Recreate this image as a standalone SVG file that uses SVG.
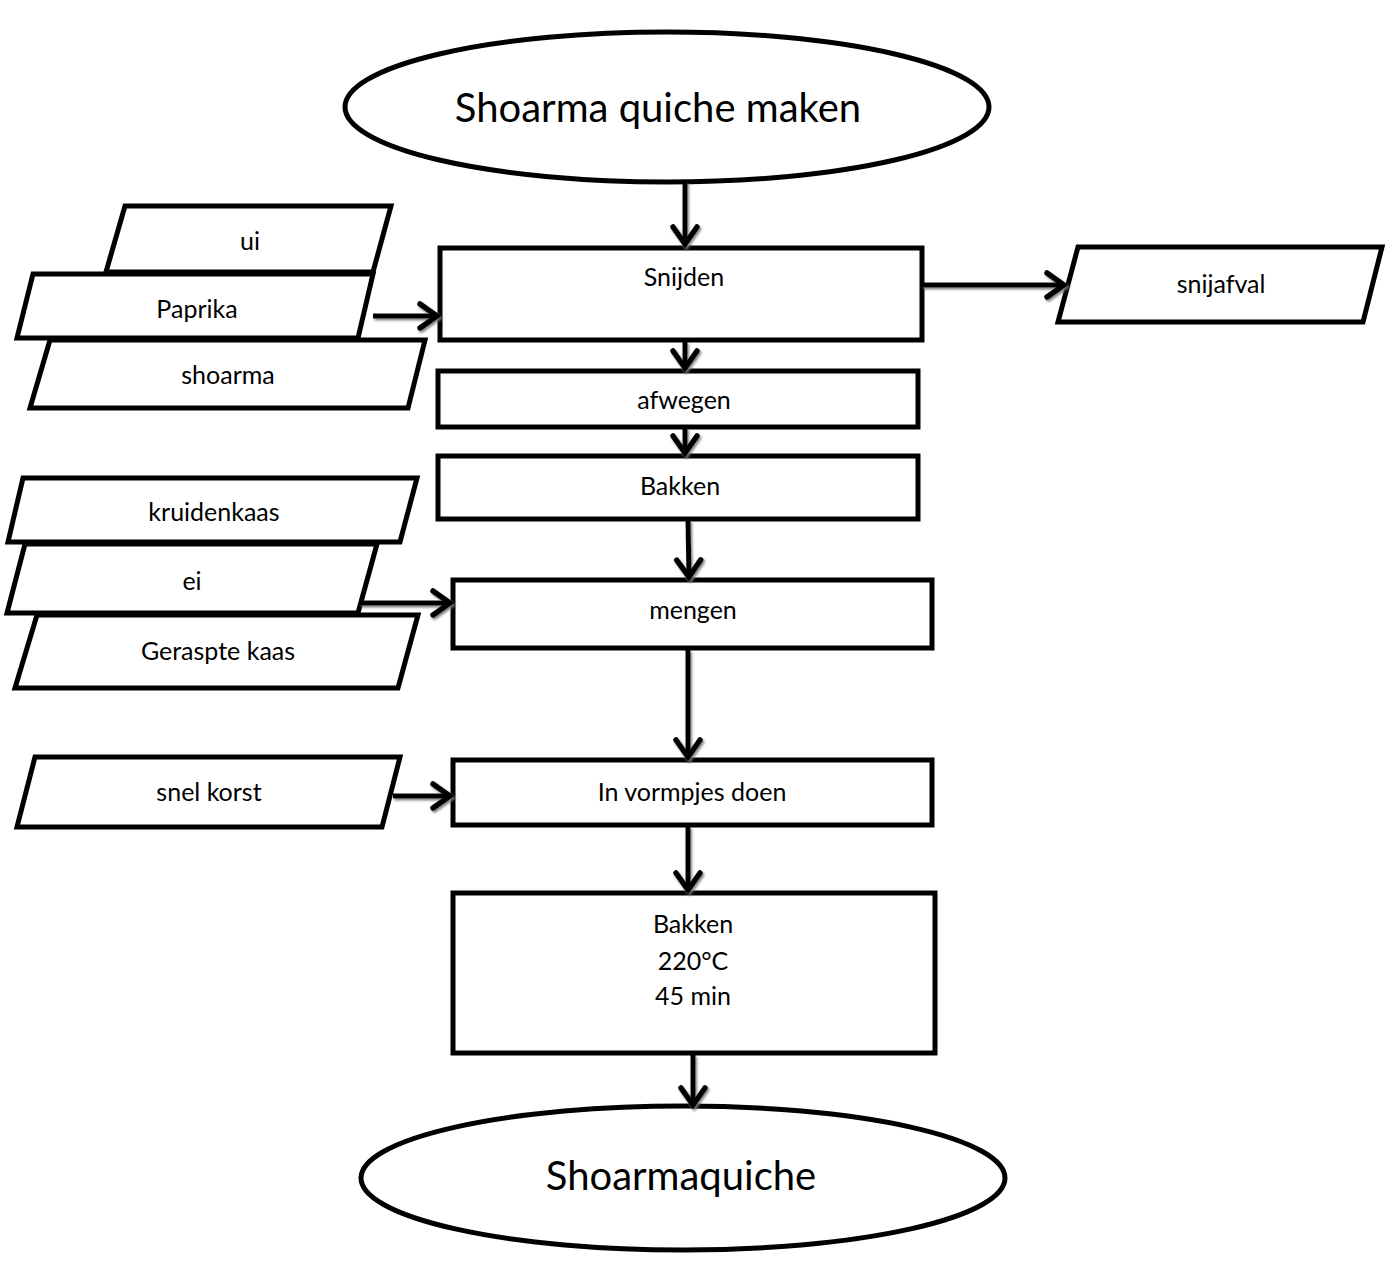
<svg xmlns="http://www.w3.org/2000/svg" width="1397" height="1286" viewBox="0 0 1397 1286">
<style>
.s{fill:#fff;stroke:#000;stroke-width:5;stroke-linejoin:miter}
.t{font-family:Lato,"Open Sans","Liberation Sans",sans-serif;font-size:25px;fill:#000;text-anchor:middle}
.big{font-size:40px}
.c{stroke:#000;stroke-width:5;fill:none}
</style>
<defs>
<filter id="sh" x="-20%" y="-50%" width="140%" height="200%">
<feDropShadow dx="1.5" dy="2" stdDeviation="0.8" flood-color="#777" flood-opacity="0.9"/>
</filter>
<marker id="ah" markerUnits="userSpaceOnUse" viewBox="-22 -16 26 32" refX="0" refY="0" markerWidth="26" markerHeight="32" orient="auto">
<path d="M-17,-12 L0,0 L-17,12" fill="none" stroke="#000" stroke-width="5.5" stroke-linecap="round" stroke-linejoin="miter"/>
</marker>
</defs>
<rect width="1397" height="1286" fill="#fff"/>

<g id="start"><ellipse class="s" cx="667" cy="107" rx="322" ry="75"/><text class="t big" x="658" y="122">Shoarma quiche maken</text></g>

<g id="ui"><polygon class="s" points="125,206 391,206 373,272 106,272"/><text class="t" x="250" y="250">ui</text></g>
<g id="shoarma"><polygon class="s" points="50,340 425,340 408,408 30,408"/><text class="t" x="228" y="384">shoarma</text></g>
<g id="paprika"><polygon class="s" points="33,274 373,274 358,338 17,338"/><text class="t" x="197" y="318">Paprika</text></g>

<g id="snijden"><rect class="s" x="440" y="248" width="482" height="92"/><text class="t" x="684" y="286">Snijden</text></g>
<g id="snijafval"><polygon class="s" points="1078,247 1382,247 1363,322 1058,322"/><text class="t" x="1221" y="293">snijafval</text></g>
<g id="afwegen"><rect class="s" x="438" y="371" width="480" height="56"/><text class="t" x="684" y="409">afwegen</text></g>
<g id="bakken1"><rect class="s" x="438" y="456" width="480" height="63"/><text class="t" x="680" y="495">Bakken</text></g>

<g id="geraspte"><polygon class="s" points="37,615 418,615 398,688 15,688"/><text class="t" x="218" y="660">Geraspte kaas</text></g>
<g id="ei"><polygon class="s" points="25,544 377,544 358,613 7,613"/><text class="t" x="192" y="590">ei</text></g>
<g id="kruidenkaas"><polygon class="s" points="23,478 417,478 400,542 8,542"/><text class="t" x="214" y="521">kruidenkaas</text></g>

<g id="mengen"><rect class="s" x="453" y="580" width="479" height="68"/><text class="t" x="693" y="619">mengen</text></g>
<g id="snelkorst"><polygon class="s" points="35,757 400,757 382,827 17,827"/><text class="t" x="209" y="801">snel korst</text></g>
<g id="vormpjes"><rect class="s" x="453" y="760" width="479" height="65"/><text class="t" x="692" y="801">In vormpjes doen</text></g>
<g id="bakken2"><rect class="s" x="453" y="893" width="482" height="160"/><text class="t" x="693" y="933">Bakken</text><text class="t" x="693" y="970">220°C</text><text class="t" x="693" y="1005">45 min</text></g>
<g id="end"><ellipse class="s" cx="683" cy="1178" rx="322" ry="72"/><text class="t big" x="681" y="1190">Shoarmaquiche</text></g>

<g id="connectors" filter="url(#sh)">
<line class="c" x1="685" y1="182" x2="685" y2="244" marker-end="url(#ah)"/>
<line class="c" x1="373" y1="316" x2="437" y2="316" marker-end="url(#ah)"/>
<line class="c" x1="922" y1="285" x2="1064" y2="285" marker-end="url(#ah)"/>
<line class="c" x1="685" y1="342" x2="685" y2="368" marker-end="url(#ah)"/>
<line class="c" x1="685" y1="428" x2="685" y2="453" marker-end="url(#ah)"/>
<line class="c" x1="688" y1="520" x2="689" y2="577" marker-end="url(#ah)"/>
<line class="c" x1="360" y1="603" x2="450" y2="603" marker-end="url(#ah)"/>
<line class="c" x1="688" y1="650" x2="688" y2="757" marker-end="url(#ah)"/>
<line class="c" x1="393" y1="796" x2="450" y2="796" marker-end="url(#ah)"/>
<line class="c" x1="688" y1="827" x2="688" y2="890" marker-end="url(#ah)"/>
<line class="c" x1="693" y1="1055" x2="693" y2="1105" marker-end="url(#ah)"/>
</g>
</svg>
